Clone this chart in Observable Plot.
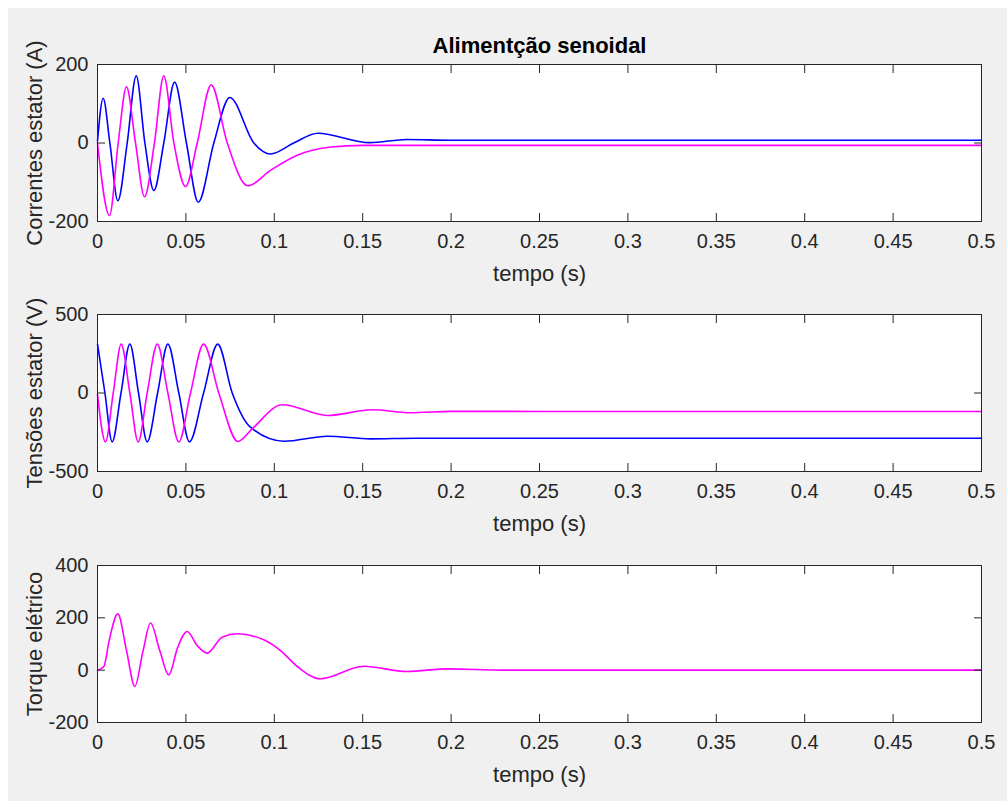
<!DOCTYPE html>
<html>
<head>
<meta charset="utf-8">
<script src="https://cdn.jsdelivr.net/npm/d3@7"></script>
<script src="https://cdn.jsdelivr.net/npm/@observablehq/plot@0.6"></script>
<style>
  html, body { margin: 0; padding: 0; background: #ffffff; }
  #fig { position: absolute; left: 8px; top: 8px; width: 999px; height: 793px; background: #f0f0f0; }
  .p { position: absolute; left: -8px; }
</style>
</head>
<body>
<div id="fig"></div>
<script>
// ---- data ----
const title = "Alimentção senoidal";
const xLabel = "tempo (s)";
const yLabels = ["Correntes estator (A)", "Tensões estator (V)", "Torque elétrico"];
const xTicks = [0, 0.05, 0.1, 0.15, 0.2, 0.25, 0.3, 0.35, 0.4, 0.45, 0.5];
const yTicks1 = [-200, 0, 200];
const yTicks2 = [-500, 0, 500];
const yTicks3 = [-200, 0, 200, 400];

// stator currents [t, value]
const currentBlue = [
  [0, 5], [0.0032, 114], [0.007, 0], [0.0115, -147], [0.0168, 0], [0.0219, 171],
  [0.0268, 0], [0.0319, -121], [0.0375, 0], [0.0436, 155], [0.0503, 0], [0.057, -151],
  [0.0658, 0], [0.0748, 116], [0.0884, 0], [0.0979, -28], [0.111, 0], [0.1246, 25],
  [0.154, 1], [0.175, 9], [0.2, 7], [0.3, 7], [0.5, 7]
];
const currentMagenta = [
  [0, 0], [0.0068, -185], [0.0117, 0], [0.0164, 143], [0.0215, 0], [0.0266, -137],
  [0.0322, 0], [0.0375, 171], [0.0432, 0], [0.0498, -111], [0.0564, 0], [0.0643, 148],
  [0.0734, 0], [0.085, -109], [0.098, -69], [0.113, -31], [0.132, -10], [0.15, -6],
  [0.3, -6], [0.5, -6]
];
// stator voltages
const voltageBlue = [
  [0, 311], [0.0042, 0], [0.0083, -311], [0.0133, 0], [0.0183, 311], [0.0232, 0],
  [0.0281, -311], [0.034, 0], [0.0398, 311], [0.046, 0], [0.052, -311], [0.06, 0],
  [0.068, 311], [0.0762, 0], [0.0865, -218], [0.1055, -307], [0.13, -275],
  [0.1545, -292], [0.18, -288], [0.3, -288], [0.5, -288]
];
const voltageMagenta = [
  [0, -10], [0.0045, -311], [0.0089, 0], [0.0134, 311], [0.0183, 0], [0.023, -311],
  [0.0281, 0], [0.0338, 311], [0.0398, 0], [0.046, -311], [0.0526, 0], [0.06, 311],
  [0.0686, 0], [0.0794, -309], [0.0875, -228], [0.1045, -75], [0.13, -143],
  [0.1554, -107], [0.177, -126], [0.2, -117], [0.3, -118], [0.5, -118]
];
// electric torque
const torque = [
  [0, 0], [0.0036, 14], [0.0065, 110], [0.0115, 215], [0.0164, 75], [0.0211, -62], [0.0258, 75],
  [0.030, 180], [0.0352, 75], [0.0403, -18], [0.0454, 88], [0.0507, 148], [0.0564, 94],
  [0.062, 65], [0.0705, 126], [0.079, 139], [0.094, 116], [0.1035, 75], [0.113, 14],
  [0.126, -33], [0.1506, 15], [0.175, -5], [0.198, 5], [0.23, 0], [0.5, 0]
];

const BLUE = "#0000ff", MAGENTA = "#ff00ff", INK = "#262626";
const FONT = "'Liberation Sans', Arial, Helvetica, sans-serif";
const fmt = d => String(+d.toFixed(2));

function panel({series, yDomain, yTicks, yLabel, top, withTitle}) {
  const marks = [
    Plot.frame({fill: "white"}),
    ...series.map(([data, color]) => Plot.line(data, {x: d => d[0], y: d => d[1], stroke: color, strokeWidth: 1.6, curve: "monotone-x"})),
    Plot.frame({stroke: INK, strokeWidth: 1}),
    // inward ticks
    Plot.axisX({anchor: "bottom", ticks: xTicks, tickSize: -8, tickFormat: () => "", label: null, stroke: INK}),
    Plot.axisX({anchor: "top", ticks: xTicks, tickSize: -8, tickFormat: () => "", label: null, stroke: INK}),
    Plot.axisY({anchor: "left", ticks: yTicks, tickSize: -8, tickFormat: () => "", label: null, stroke: INK}),
    Plot.axisY({anchor: "right", ticks: yTicks, tickSize: -8, tickFormat: () => "", label: null, stroke: INK}),
    // tick labels
    Plot.axisX({anchor: "bottom", ticks: xTicks, tickSize: 0, tickPadding: 12, tickFormat: fmt, label: null, fontSize: 20, fill: INK}),
    Plot.axisY({anchor: "left", ticks: yTicks, tickSize: 0, tickPadding: 9, tickFormat: d => String(d), label: null, fontSize: 20, fill: INK}),
    // axis labels
    Plot.text([xLabel], {text: d => d, frameAnchor: "bottom", dy: 52, fontSize: 22, fill: INK, textAnchor: "middle", lineAnchor: "middle"}),
    Plot.text([yLabel], {text: d => d, frameAnchor: "left", dx: -63, rotate: -90, fontSize: 22, fill: INK, textAnchor: "middle", lineAnchor: "middle"})
  ];
  if (withTitle) marks.push(Plot.text([title], {text: d => d, frameAnchor: "top", dy: -19, fontSize: 22, fontWeight: "bold", fill: "#000", textAnchor: "middle", lineAnchor: "middle"}));
  const svg = Plot.plot({
    width: 1007, height: 282,
    marginLeft: 97, marginRight: 26, marginTop: 56, marginBottom: 69,
    x: {domain: [0, 0.5]},
    y: {domain: yDomain},
    style: {background: "transparent", overflow: "visible", fontFamily: FONT, color: INK},
    marks
  });
  const wrap = document.createElement("div");
  wrap.className = "p";
  wrap.style.top = (top - 8) + "px";
  wrap.appendChild(svg);
  document.getElementById("fig").appendChild(wrap);
}

panel({series: [[currentBlue, BLUE], [currentMagenta, MAGENTA]], yDomain: [-200, 200], yTicks: yTicks1, yLabel: yLabels[0], top: 8, withTitle: true});
panel({series: [[voltageBlue, BLUE], [voltageMagenta, MAGENTA]], yDomain: [-500, 500], yTicks: yTicks2, yLabel: yLabels[1], top: 258});
panel({series: [[torque, MAGENTA]], yDomain: [-200, 400], yTicks: yTicks3, yLabel: yLabels[2], top: 509});
</script>
</body>
</html>
